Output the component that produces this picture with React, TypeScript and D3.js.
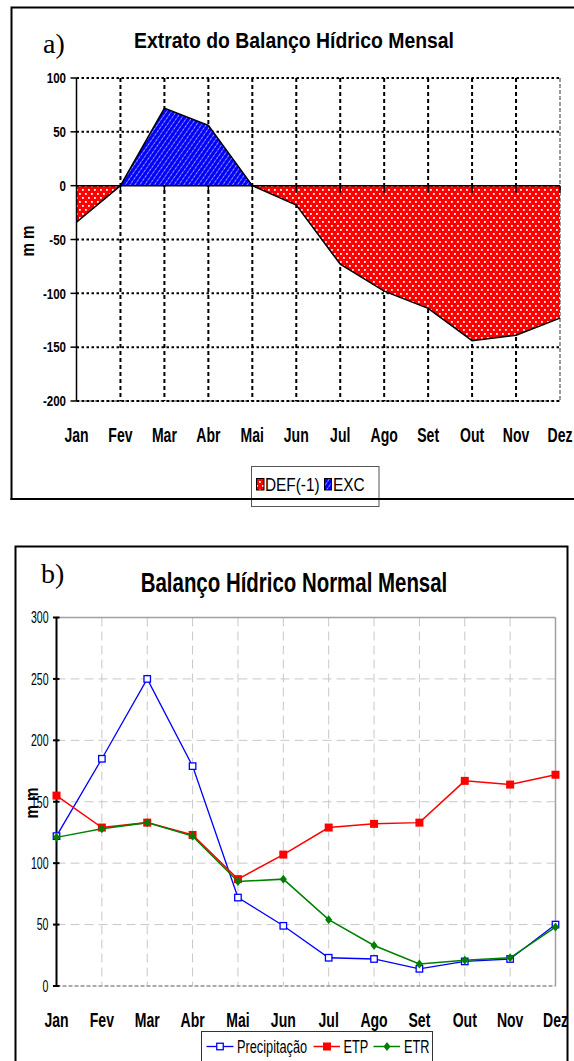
import React from 'react';
import * as d3 from 'd3';

const months = ['Jan', 'Fev', 'Mar', 'Abr', 'Mai', 'Jun', 'Jul', 'Ago', 'Set', 'Out', 'Nov', 'Dez'];

// Chart a) Extrato do Balanço Hídrico Mensal
const defValues = [-34, 0, 0, 0, 0, -18, -73, -98, -114, -144, -139, -123];
const excValues = [0, 0, 72, 56, 0, 0, 0, 0, 0, 0, 0, 0];
const ticksA = [100, 50, 0, -50, -100, -150, -200];

// Chart b) Balanço Hídrico Normal Mensal
const precipitacao = [122, 185, 250, 179, 72, 49, 23, 22, 14, 20, 22, 50];
const etp = [155, 129, 133, 123, 87, 107, 129, 132, 133, 167, 164, 172];
const etr = [121, 128, 133, 122, 85, 87, 54, 33, 18, 21, 23, 48];
const ticksB = [0, 50, 100, 150, 200, 250, 300];

const SANS = "'Liberation Sans', Arial, sans-serif";
const SERIF = "'Liberation Serif', 'Times New Roman', serif";

type TP = {
  x: number; y: number; sx?: number; size: number; weight?: string | number;
  anchor?: 'start' | 'middle' | 'end'; family?: string; rotate?: number; children: React.ReactNode; fill?: string;
};
function T({ x, y, sx = 1, size, weight = 'normal', anchor = 'start', family = SANS, rotate = 0, children, fill = '#000' }: TP) {
  return (
    <text
      transform={`translate(${x},${y}) rotate(${rotate}) scale(${sx},1)`}
      fontSize={size}
      fontWeight={weight}
      fontFamily={family}
      textAnchor={anchor}
      fill={fill}
    >
      {children}
    </text>
  );
}

function ChartA() {
  const x = d3.scalePoint<string>().domain(months).range([76.5, 560]);
  const y = d3.scaleLinear().domain([-200, 100]).range([401, 78]);
  const combined = defValues.map((d, i) => d + excValues[i]);
  const areaDef = d3.area<number>().x((_, i) => x(months[i])!).y0(y(0)).y1((d) => y(d));
  const line = d3.line<number>().x((_, i) => x(months[i])!).y((d) => y(d));
  const x0 = x(months[0])!;
  const x1 = x(months[months.length - 1])!;
  return (
    <g>
      <defs>
        <pattern id="defPat" width="6" height="8" patternUnits="userSpaceOnUse">
          <rect width="6" height="8" fill="#ff0000" />
          <rect x="1" y="1" width="1.8" height="1.8" fill="#fff" />
          <rect x="4" y="5" width="1.8" height="1.8" fill="#fff" />
        </pattern>
        <pattern id="excPat" width="4" height="4" patternUnits="userSpaceOnUse" patternTransform="rotate(35)">
          <rect width="4" height="4" fill="#0000ff" />
          <line x1="0" y1="0" x2="0" y2="4" stroke="#fff" strokeWidth="1.2" strokeDasharray="2.5,1" />
        </pattern>
      </defs>
      {/* outer frame */}
      <rect x={11.5} y={7.5} width={600} height={491.5} fill="#fff" stroke="#000" strokeWidth={2} />
      {/* plot border */}
      <line x1={x1} x2={x1} y1={y(100)} y2={y(-200)} stroke="#999" strokeWidth={2} strokeDasharray="4,2" />
      <line x1={x0} x2={x1} y1={y(-200)} y2={y(-200)} stroke="#999" strokeWidth={2} strokeDasharray="4,2" />
      {/* gridlines */}
      {ticksA.filter((t) => t !== 0).map((t) => (
        <line key={'h' + t} x1={x0} x2={x1} y1={y(t)} y2={y(t)} stroke="#000" strokeWidth={2} strokeDasharray="2.5,2.5" />
      ))}
      {months.slice(1, -1).map((m) => (
        <line key={'v' + m} x1={x(m)} x2={x(m)} y1={y(100)} y2={y(-200)} stroke="#000" strokeWidth={2} strokeDasharray="4,3" />
      ))}
      {/* areas */}
      <path d={areaDef(defValues)!} fill="url(#defPat)" />
      <path d={areaDef(excValues)!} fill="url(#excPat)" />
      <path d={line(combined)!} fill="none" stroke="#000" strokeWidth={1.5} />
      {/* x axis at 0 */}
      <line x1={x0} x2={x1} y1={y(0)} y2={y(0)} stroke="#000" strokeWidth={1.5} />
      {months.slice(1).map((m) => (
        <line key={'xt' + m} x1={x(m)} x2={x(m)} y1={y(0)} y2={y(0) + 7} stroke="#000" strokeWidth={1.5} />
      ))}
      {/* y axis */}
      <line x1={x0} x2={x0} y1={y(100)} y2={y(-200)} stroke="#000" strokeWidth={1.5} />
      {ticksA.map((t) => (
        <g key={'yt' + t}>
          <line x1={x0 - 6} x2={x0} y1={y(t)} y2={y(t)} stroke="#000" strokeWidth={1.5} />
          <T x={66} y={y(t) + 5.3} size={15} sx={0.77} weight="bold" anchor="end">{t}</T>
        </g>
      ))}
      {months.map((m) => (
        <T key={'xl' + m} x={x(m)!} y={441.5} size={19.5} sx={0.72} weight="bold" anchor="middle">{m}</T>
      ))}
      <T x={28} y={241} size={19} sx={0.8} weight="bold" anchor="middle" rotate={-90}>
        <tspan dy="6">m m</tspan>
      </T>
      <T x={43} y={53} size={28} family={SERIF}>a)</T>
      <T x={294} y={48} size={22.4} sx={0.866} weight="bold" anchor="middle">Extrato do Balanço Hídrico Mensal</T>
      {/* legend */}
      <rect x={251.5} y={466.5} width={127.5} height={40} fill="#fff" stroke="#555" strokeWidth={1} />
      <rect x={256.5} y={478.5} width={7.5} height={11.5} fill="url(#defPat)" stroke="#000" strokeWidth={1} />
      <T x={265} y={491} size={19} sx={0.81}>DEF(-1)</T>
      <rect x={324.5} y={478.5} width={7} height={11.5} fill="url(#excPat)" stroke="#000" strokeWidth={1} />
      <T x={333} y={491} size={19} sx={0.81}>EXC</T>
      <line x1={10.5} x2={574} y1={499} y2={499} stroke="#000" strokeWidth={2} />
    </g>
  );
}

function ChartB() {
  const x = d3.scalePoint<string>().domain(months).range([56.5, 555.5]);
  const y = d3.scaleLinear().domain([0, 300]).range([986, 617.5]);
  const line = d3.line<number>().x((_, i) => x(months[i])!).y((d) => y(d));
  const x0 = x(months[0])!;
  const x1 = x(months[months.length - 1])!;
  const sq = (cx: number, cy: number, s: number) => ({ x: cx - s / 2, y: cy - s / 2, width: s, height: s });
  return (
    <g>
      <rect x={15.5} y={546.5} width={552} height={530} fill="#fff" stroke="#000" strokeWidth={2} />
      {/* gridlines */}
      {ticksB.filter((t) => t > 0 && t < 300).map((t) => (
        <line key={'h' + t} x1={x0} x2={x1} y1={y(t)} y2={y(t)} stroke="#c8c8c8" strokeWidth={1} strokeDasharray="9,5" />
      ))}
      {months.slice(1, -1).map((m) => (
        <line key={'v' + m} x1={x(m)} x2={x(m)} y1={y(300)} y2={y(0)} stroke="#c8c8c8" strokeWidth={1} strokeDasharray="9,5" />
      ))}
      {/* plot border */}
      <line x1={x0} x2={x1} y1={y(300)} y2={y(300)} stroke="#a0a0a0" strokeWidth={1.5} />
      <line x1={x1} x2={x1} y1={y(300)} y2={y(0)} stroke="#a0a0a0" strokeWidth={1.5} />
      <line x1={x0} x2={x1} y1={y(0)} y2={y(0)} stroke="#909090" strokeWidth={1.5} strokeDasharray="4,2" />
      {/* y axis */}
      <line x1={x0} x2={x0} y1={y(300)} y2={y(0)} stroke="#000" strokeWidth={2} />
      {ticksB.map((t) => (
        <g key={'yt' + t}>
          <line x1={x0 - 3.5} x2={x0 + 3} y1={y(t)} y2={y(t)} stroke="#000" strokeWidth={2} />
          <T x={48.5} y={y(t) + 5.8} size={16} sx={0.66} anchor="end">{t}</T>
        </g>
      ))}
      {/* series */}
      <path d={line(precipitacao)!} fill="none" stroke="#0000ff" strokeWidth={1.3} />
      {precipitacao.map((v, i) => (
        <rect key={'p' + i} {...sq(x(months[i])!, y(v), 6.5)} fill="#fff" stroke="#0000ff" strokeWidth={1.3} />
      ))}
      <path d={line(etp)!} fill="none" stroke="#ff0000" strokeWidth={1.5} />
      {etp.map((v, i) => (
        <rect key={'e' + i} {...sq(x(months[i])!, y(v), 8)} fill="#ff0000" />
      ))}
      <path d={line(etr)!} fill="none" stroke="#008000" strokeWidth={1.5} />
      {etr.map((v, i) => {
        const cx = x(months[i])!;
        const cy = y(v);
        return <path key={'r' + i} d={`M${cx},${cy - 4.5}L${cx + 3.5},${cy}L${cx},${cy + 4.5}L${cx - 3.5},${cy}Z`} fill="#008000" />;
      })}
      {months.map((m) => (
        <T key={'xl' + m} x={x(m)!} y={1026.7} size={19.5} sx={0.72} weight="bold" anchor="middle">{m}</T>
      ))}
      <T x={31.5} y={803} size={19} sx={0.8} weight="bold" anchor="middle" rotate={-90}>
        <tspan dy="6">m m</tspan>
      </T>
      <T x={41} y={583} size={28} family={SERIF}>b)</T>
      <T x={294} y={592} size={28} sx={0.73} weight="bold" anchor="middle">Balanço Hídrico Normal Mensal</T>
      {/* legend */}
      <rect x={201.5} y={1031.5} width={231} height={40} fill="#fff" stroke="#333" strokeWidth={1} />
      <line x1={206.5} x2={233.5} y1={1046.5} y2={1046.5} stroke="#0000ff" strokeWidth={1.3} />
      <rect {...sq(220, 1046.5, 6.5)} fill="#fff" stroke="#0000ff" strokeWidth={1.3} />
      <T x={237} y={1053.3} size={18.5} sx={0.69}>Precipitação</T>
      <line x1={313.5} x2={340} y1={1046.5} y2={1046.5} stroke="#ff0000" strokeWidth={1.5} />
      <rect {...sq(327, 1046.5, 8)} fill="#ff0000" />
      <T x={343.5} y={1053.3} size={18.5} sx={0.69}>ETP</T>
      <line x1={373.5} x2={400} y1={1046.5} y2={1046.5} stroke="#008000" strokeWidth={1.5} />
      <path d={`M387,1042L390.5,1046.5L387,1051L383.5,1046.5Z`} fill="#008000" />
      <T x={404} y={1053.3} size={18.5} sx={0.69}>ETR</T>
    </g>
  );
}

export default function App() {
  return (
    <svg
      width={574}
      height={1061}
      viewBox="0 0 574 1061"
      style={{ position: 'absolute', left: 0, top: 0, display: 'block', background: '#fff' }}
    >
      <rect width={574} height={1061} fill="#fff" />
      <ChartA />
      <ChartB />
    </svg>
  );
}
